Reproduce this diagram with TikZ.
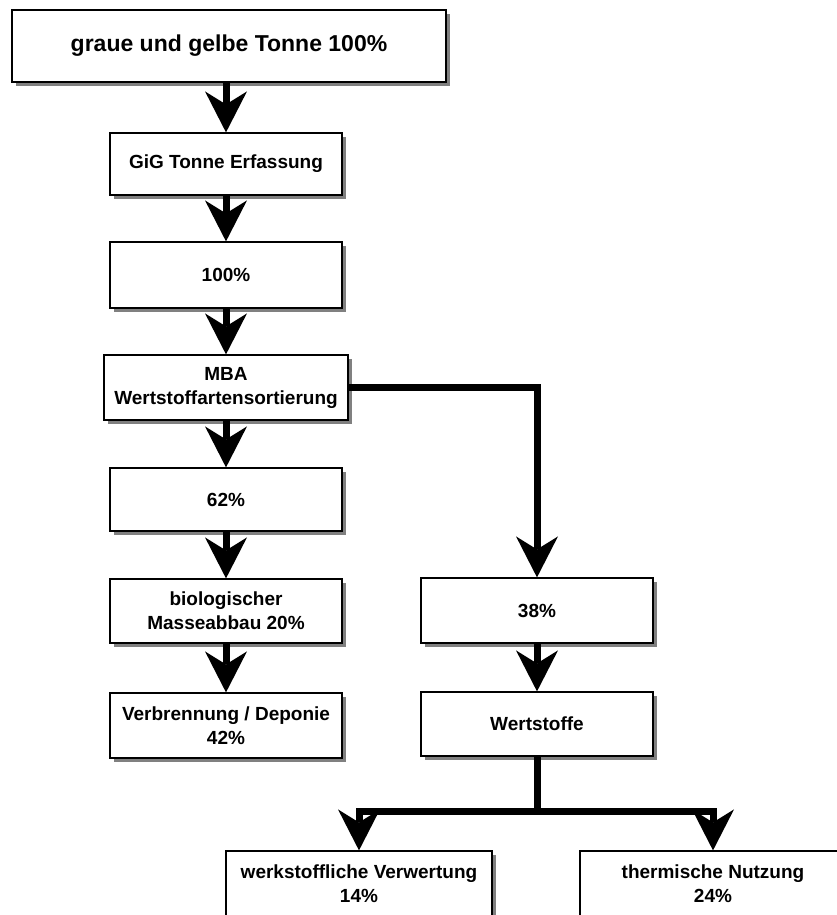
\documentclass[tikz,border=0pt]{standalone}
\usepackage{fontspec}
\setmainfont{Liberation Sans}
\usetikzlibrary{arrows.meta, positioning, shadows}
\tikzset{
    box/.style={draw, line width=1.2pt, fill=white, inner sep=0pt, align=center, % every box of the flow chart
        minimum width=232pt, minimum height=64pt,
        font=\fontsize{19}{24}\selectfont\bfseries,
        drop shadow={shadow xshift=4pt, shadow yshift=-4pt, fill=black!50, opacity=1}}, % grey shadow to the lower right
    bigbox/.style={box, minimum width=434pt, minimum height=72pt,
        font=\fontsize{23}{27}\selectfont\bfseries},
}
\tikzstyle{flow} = [line width=7pt, line join=miter, -{Stealth[length=41pt, width=42pt, inset=13pt, line width=0pt]}]

\begin{document}
\begin{tikzpicture}[x=1pt, y=-1pt]
    \useasboundingbox (0,0) rectangle (836,915);

    \node[bigbox] (tonne) at (229,46) {graue und gelbe Tonne 100\%};
    \node[box, minimum height=62pt] (gig) at (226,164) {GiG Tonne Erfassung};
    \node[box, minimum height=66pt] (input) at (226,275) {100\%};
    \node[box, minimum width=244pt, minimum height=65pt] (mba) at (226,387.5) {MBA\\Wertstoffartensortierung};
    \node[box, minimum height=63pt] (rest) at (226,499.5) {62\%};
    \node[box] (bio) at (226,611) {biologischer\\Masseabbau 20\%};
    \node[box, minimum height=65pt] (verb) at (226,725.5) {Verbrennung / Deponie\\42\%};
    \node[box, minimum height=65pt] (anteil) at (537,610.5) {38\%};
    \node[box] (ws) at (537,724) {Wertstoffe};
    \node[box, minimum width=266pt, minimum height=66pt] (werk) at (359,884) {werkstoffliche Verwertung\\14\%};
    \node[box, minimum width=266pt, minimum height=66pt] (therm) at (713,884) {thermische Nutzung\\24\%};

    \draw[flow] (tonne.south -| gig.north) -- (gig.north);
    \draw[flow] (gig.south) -- (input.north);
    \draw[flow] (input.south) -- (mba.north);
    \draw[flow] (mba.south) -- (rest.north);
    \draw[flow] (rest.south) -- (bio.north);
    \draw[flow] (bio.south) -- (verb.north);
    \draw[flow] (mba.east) -| (anteil.north);
    \draw[flow] (anteil.south) -- (ws.north);
    \draw[flow] (ws.south) -- ++(0,55) coordinate (split) -| (werk.north);
    \draw[flow] (split) -| (therm.north);
\end{tikzpicture}
\end{document}
